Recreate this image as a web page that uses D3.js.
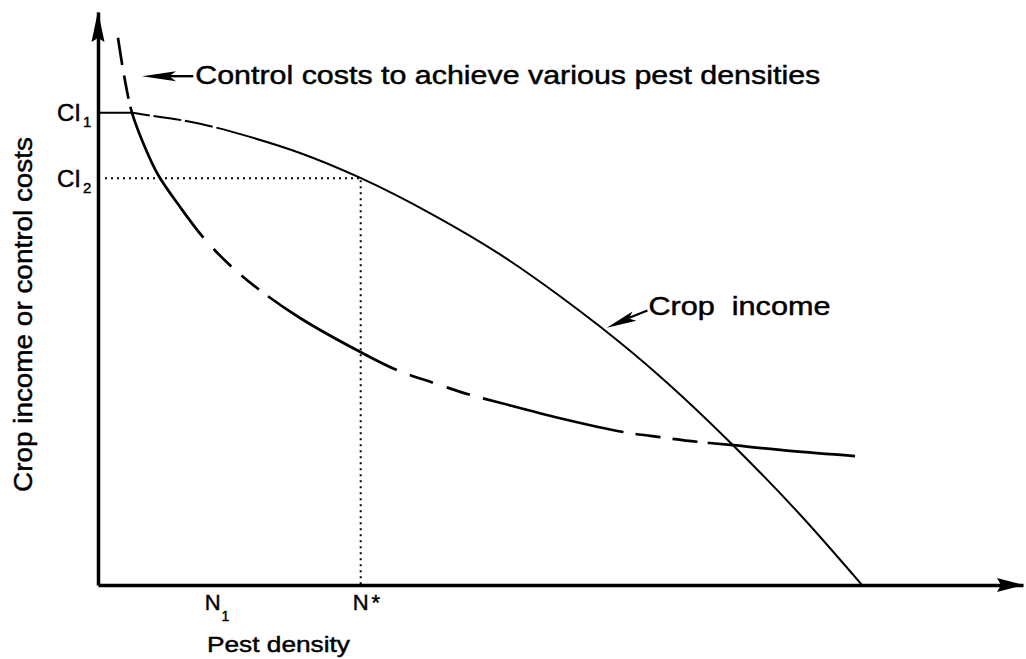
<!DOCTYPE html>
<html>
<head>
<meta charset="utf-8">
<script src="https://cdn.jsdelivr.net/npm/d3@7/dist/d3.min.js"></script>
<style>
	body { margin: 0; background: #fff; }
	text { font-family: "Liberation Sans", Arial, sans-serif; fill: #000; stroke: #000; stroke-width: 0.45px; }
</style>
</head>
<body>
<script>
(function(){

	//crop income curve (pest density, income)
	var cropX = [0, 3.68, 4.54, 11.03, 16.43, 21.84, 28.43, 36.22, 43.46, 49.95, 54.27, 60.76, 68.65, 75.89, 82.59];
	var cropY = [82.4, 82.4, 82.2, 80.5, 78.2, 75.4, 71.0, 64.6, 57.7, 50.4, 45.1, 36.4, 24.4, 12.3, 0];
	//stretches of the crop curve that are inked (the rest is gaps in the print)
	var cropInked = [[0, 5.6], [6.0, 9.0], [9.4, 12.4], [12.8, 100]];

	//control costs to achieve various pest densities
	var costX = [2.16, 2.81, 3.68, 4.97, 6.49, 8.86, 11.35, 14.27, 17.30, 21.84, 28.32, 32.32, 36.22, 40.22, 43.46, 49.95, 56.76, 60.76, 64.76, 68.65, 74.81, 81.84];
	var costY = [95.5, 89.0, 82.4, 76.8, 71.6, 66.0, 60.7, 55.8, 51.7, 46.6, 40.7, 37.5, 35.3, 33.2, 31.8, 29.1, 26.7, 25.8, 25.0, 24.4, 23.4, 22.5];
	//dashed sections of the control cost curve
	var costInked = [[2.16, 2.62], [2.82, 3.30], [3.50, 11.4], [12.5, 14.4], [15.5, 17.4], [18.4, 32.3],
		[33.7, 36.2], [37.7, 40.2], [41.6, 56.8], [58.1, 60.8], [62.1, 64.8], [65.9, 81.84]];

	//reference levels
	var ciOne = 82.4,   //CI1
		ciTwo = 71.0,   //CI2
		nOne = 12.4,    //N1
		nStar = 28.4;   //N*

	//labels
	var yTitle = "Crop income or control costs",
		xTitle = "Pest density",
		costLabel = "Control costs to achieve various pest densities",
		cropLabel = "Crop\u00a0\u00a0income";

	var width = 1026,
		height = 659;

	var xScale = d3.scaleLinear()
		.domain([0, 100])
		.range([98, 1023]);
	var yScale = d3.scaleLinear()
		.domain([0, 100])
		.range([585, 12]);

	var svg = d3.select("body")
		.append("svg")
		.attr("width", width)
		.attr("height", height);

	//axes (no ticks, just the thick lines)
	svg.append("g")
		.attr("class", "xaxis")
		.attr("transform", "translate(0," + yScale(0) + ")")
		.call(d3.axisBottom(xScale).tickValues([]).tickSizeOuter(0));
	svg.append("g")
		.attr("class", "yaxis")
		.attr("transform", "translate(" + xScale(0) + ",0)")
		.call(d3.axisLeft(yScale).tickValues([]).tickSizeOuter(0));
	svg.selectAll(".domain")
		.attr("stroke", "#000")
		.attr("stroke-width", 3.5);

	//arrow heads on the axes
	var x0 = xScale(0), y0 = yScale(0),
		xEnd = xScale.range()[1], yEnd = yScale.range()[1];
	svg.append("path")
		.attr("d", "M" + x0 + "," + (yEnd - 1) + "L" + (x0 + 6.5) + "," + (yEnd + 30) + "L" + x0 + "," + (yEnd + 26) + "L" + (x0 - 6.5) + "," + (yEnd + 30) + "Z")
		.attr("fill", "#000");
	svg.append("path")
		.attr("d", "M" + (xEnd + 1) + "," + y0 + "L" + (xEnd - 26) + "," + (y0 - 7) + "L" + (xEnd - 22) + "," + y0 + "L" + (xEnd - 26) + "," + (y0 + 7) + "Z")
		.attr("fill", "#000");

	//dotted guide lines at N* and CI2
	svg.append("line")
		.attr("x1", xScale(0) + 7).attr("x2", xScale(nStar))
		.attr("y1", yScale(ciTwo)).attr("y2", yScale(ciTwo))
		.attr("stroke", "#000")
		.attr("stroke-width", 2)
		.attr("stroke-dasharray", "2,4");
	svg.append("line")
		.attr("x1", xScale(nStar)).attr("x2", xScale(nStar))
		.attr("y1", yScale(ciTwo) + 2).attr("y2", yScale(0))
		.attr("stroke", "#000")
		.attr("stroke-width", 2)
		.attr("stroke-dasharray", "2,4");

	//curves
	var cropLine = d3.line()
		.x(function(d){ return xScale(d[0]); })
		.y(function(d){ return yScale(d[1]); })
		.curve(d3.curveMonotoneX);
	var costLine = d3.line()
		.x(function(d){ return xScale(d[0]); })
		.y(function(d){ return yScale(d[1]); })
		.curve(d3.curveCatmullRom.alpha(0.5));

	var crop = svg.append("path")
		.datum(d3.zip(cropX, cropY))
		.attr("class", "crop")
		.attr("d", cropLine)
		.attr("fill", "none")
		.attr("stroke", "#000")
		.attr("stroke-width", 2);

	var cost = svg.append("path")
		.datum(d3.zip(costX, costY))
		.attr("class", "cost")
		.attr("d", costLine)
		.attr("fill", "none")
		.attr("stroke", "#000")
		.attr("stroke-width", 2.7);

	setDashes(crop.node(), cropInked);
	setDashes(cost.node(), costInked);

	//turn inked x-ranges into a dasharray along the path
	function setDashes(node, inked){
		var total = node.getTotalLength();
		function lengthAt(xv){
			var px = xScale(xv), lo = 0, hi = total;
			for (var i=0; i<40; i++){
				var mid = (lo + hi) / 2;
				if (node.getPointAtLength(mid).x < px) lo = mid; else hi = mid;
			};
			return (lo + hi) / 2;
		};
		var dash = [0],
			pos = 0;
		inked.forEach(function(seg){
			var a = lengthAt(seg[0]), b = Math.min(lengthAt(seg[1]), total);
			dash.push(Math.max(a - pos, 0), b - a);
			pos = b;
		});
		dash.push(total);
		d3.select(node).attr("stroke-dasharray", dash.join(","));
	};

	//annotation arrows
	function arrowHead(tip, from, len, half){
		var dx = tip[0] - from[0], dy = tip[1] - from[1],
			l = Math.sqrt(dx * dx + dy * dy),
			ux = dx / l, uy = dy / l,
			bx = tip[0] - ux * len, by = tip[1] - uy * len;
		return "M" + tip[0] + "," + tip[1] +
			"L" + (bx - uy * half) + "," + (by + ux * half) +
			"L" + (tip[0] - ux * len * 0.8) + "," + (tip[1] - uy * len * 0.8) +
			"L" + (bx + uy * half) + "," + (by - ux * half) + "Z";
	};

	var costTip = [xScale(4.76), yScale(88.8)],
		costTail = [xScale(10.3), yScale(88.8)];
	svg.append("line")
		.attr("x1", costTip[0] + 20).attr("y1", costTip[1])
		.attr("x2", costTail[0]).attr("y2", costTail[1])
		.attr("stroke", "#000").attr("stroke-width", 2.4);
	svg.append("path")
		.attr("d", arrowHead(costTip, costTail, 34, 5))
		.attr("fill", "#000");

	var cropTip = [xScale(55.0), yScale(44.9)],
		cropTail = [xScale(59.4), yScale(47.9)];
	svg.append("line")
		.attr("x1", cropTip[0] + 20).attr("y1", cropTip[1] - 9)
		.attr("x2", cropTail[0]).attr("y2", cropTail[1])
		.attr("stroke", "#000").attr("stroke-width", 2.2);
	svg.append("path")
		.attr("d", arrowHead(cropTip, cropTail, 30, 5))
		.attr("fill", "#000");

	//annotation text
	svg.append("text")
		.attr("x", costTail[0] + 2)
		.attr("y", costTip[1] + 8)
		.attr("font-size", 25)
		.attr("textLength", 625)
		.attr("lengthAdjust", "spacingAndGlyphs")
		.text(costLabel);

	svg.append("text")
		.attr("x", cropTail[0] + 1)
		.attr("y", cropTail[1] + 4)
		.attr("font-size", 25)
		.attr("textLength", 182)
		.attr("lengthAdjust", "spacingAndGlyphs")
		.text(cropLabel);

	//CI labels on the y axis
	[[ciOne, "1"], [ciTwo, "2"]].forEach(function(d){
		var t = svg.append("text")
			.attr("x", 57)
			.attr("y", yScale(d[0]) + 8.5)
			.attr("font-size", 24);
		t.append("tspan").text("CI");
		t.append("tspan")
			.attr("font-size", 15)
			.attr("dx", 2)
			.attr("dy", 6)
			.text(d[1]);
	});

	//N labels on the x axis
	var n1 = svg.append("text")
		.attr("x", xScale(nOne) - 8)
		.attr("y", 610)
		.attr("font-size", 22);
	n1.append("tspan").text("N");
	n1.append("tspan")
		.attr("font-size", 14)
		.attr("dx", 1)
		.attr("dy", 11)
		.text("1");

	var ns = svg.append("text")
		.attr("x", xScale(nStar) - 8)
		.attr("y", 610)
		.attr("font-size", 22);
	ns.append("tspan").text("N");
	ns.append("tspan")
		.attr("dx", 3)
		.text("*");

	//axis titles
	svg.append("text")
		.attr("x", 207)
		.attr("y", 652)
		.attr("font-size", 22)
		.attr("textLength", 143)
		.attr("lengthAdjust", "spacingAndGlyphs")
		.text(xTitle);

	svg.append("text")
		.attr("transform", "translate(32,492) rotate(-90)")
		.attr("font-size", 25)
		.attr("textLength", 355)
		.attr("lengthAdjust", "spacingAndGlyphs")
		.text(yTitle);
})();
</script>
</body>
</html>
